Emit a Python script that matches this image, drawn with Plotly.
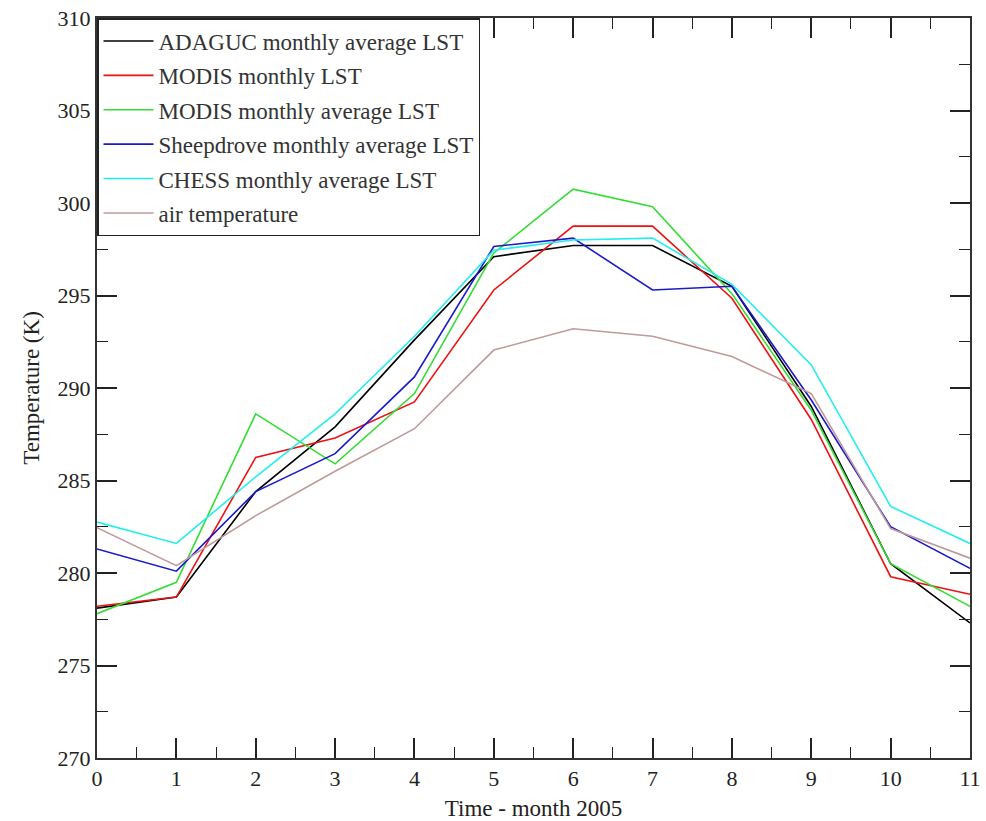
import plotly.graph_objects as go

months = list(range(12))

adaguc = [278.1, 278.7, 284.4, 287.9, 292.6, 297.1, 297.7, 297.7, 295.5, 289.0, 280.5, 277.3]
modis = [278.2, 278.7, 286.25, 287.3, 289.25, 295.3, 298.75, 298.75, 294.85, 288.3, 279.8, 278.85]
modis_avg = [277.8, 279.5, 288.6, 285.9, 289.7, 297.3, 300.75, 299.8, 295.1, 288.8, 280.5, 278.2]
sheepdrove = [281.3, 280.1, 284.4, 286.45, 290.6, 297.65, 298.1, 295.3, 295.5, 289.35, 282.5, 280.25]
chess = [282.75, 281.6, 285.2, 288.6, 292.8, 297.45, 298.0, 298.1, 295.6, 291.25, 283.6, 281.6]
air = [282.45, 280.4, 283.1, 285.5, 287.8, 292.05, 293.2, 292.8, 291.7, 289.7, 282.4, 280.8]

names = ["ADAGUC monthly average LST", "MODIS monthly LST", "MODIS monthly average LST",
         "Sheepdrove monthly average LST", "CHESS monthly average LST", "air temperature"]
series = [adaguc, modis, modis_avg, sheepdrove, chess, air]
colors = ["#000000", "#ee1111", "#33dd33", "#1a1acc", "#22eeee", "#c09a9a"]

x_ticks = list(range(12))
y_ticks = list(range(270, 311, 5))

fig = go.Figure()
for i, (nm, ys, c) in enumerate(zip(names, series, colors)):
    fig.add_trace(go.Scatter(x=months, y=ys, mode="lines", name=nm,
                             line=dict(color=c, width=1.6), legendgroup=f"g{i}"))

font_family = "Liberation Serif"
fig.update_layout(
    width=986, height=821,
    margin=dict(l=97, r=16, t=18, b=63),
    paper_bgcolor="white", plot_bgcolor="white",
    font=dict(family=font_family, size=22, color="#222"),
    showlegend=True,
    legend=dict(x=0, y=1, xanchor="left", yanchor="top",
                bordercolor="#222", borderwidth=1.5, bgcolor="white",
                font=dict(family=font_family, size=23, color="#333"),
                tracegroupgap=1.5, itemwidth=50),
)
fig.update_xaxes(range=[0, 11], tickvals=x_ticks, ticktext=[str(v) for v in x_ticks],
                 automargin=False,
                 showgrid=False, zeroline=False, showline=True, linecolor="#333", linewidth=2,
                 mirror="ticks", ticks="inside", ticklen=20, tickwidth=1.5, tickcolor="#222",
                 minor=dict(ticks="inside", ticklen=11, dtick=0.5, tickwidth=1.2, tickcolor="#222", showgrid=False),
                 title=dict(text="Time - month 2005", font=dict(size=23), standoff=9),
                 tickfont=dict(size=22))
fig.update_yaxes(range=[270, 310], tickvals=y_ticks, ticktext=[str(v) for v in y_ticks],
                 automargin=False,
                 showgrid=False, zeroline=False, showline=True, linecolor="#333", linewidth=2,
                 mirror="ticks", ticks="inside", ticklen=20, tickwidth=1.5, tickcolor="#222",
                 minor=dict(ticks="inside", ticklen=11, dtick=2.5, tickwidth=1.2, tickcolor="#222", showgrid=False),
                 title=dict(text="Temperature (K)", font=dict(size=23), standoff=12),
                 tickfont=dict(size=22))

fig.write_html("out.html")
